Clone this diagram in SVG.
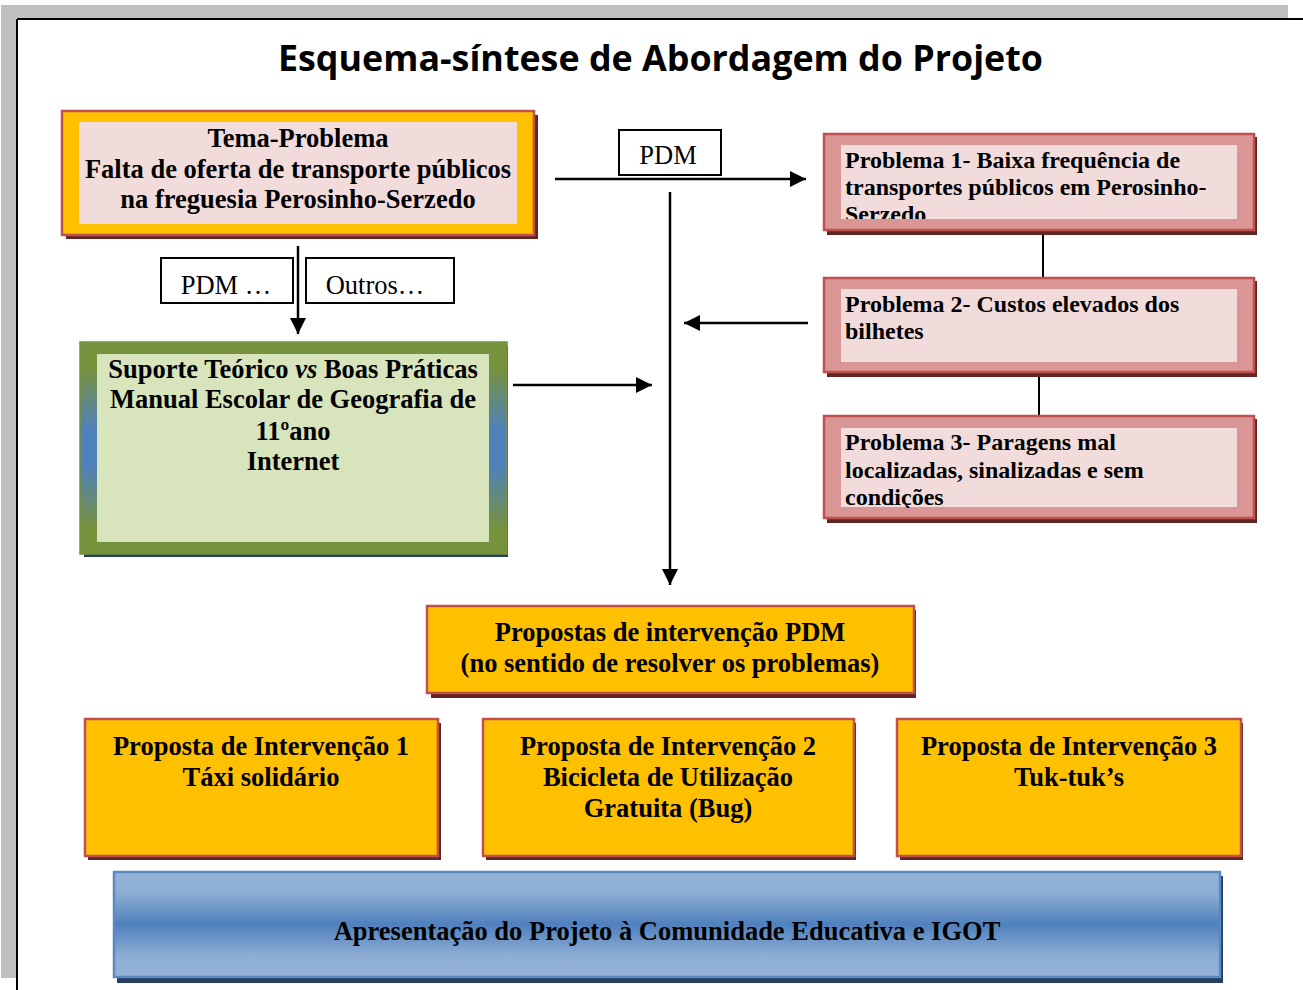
<svg xmlns="http://www.w3.org/2000/svg" width="1303" height="990" viewBox="0 0 1303 990">
<defs>
<style>
.t{font-family:"Liberation Serif","Times New Roman",serif;font-weight:bold;fill:#000}
.c{text-anchor:middle}
.r{font-family:"Liberation Serif","Times New Roman",serif;font-weight:normal;fill:#000}
.b{font-size:26.5px}
.p{font-size:24px}
.orange{fill:#FFC000;stroke:#C0504D;stroke-width:2.5}
.shr{fill:#632523}
.shb{fill:#243F60}
.pinkout{fill:#D99694;stroke:#C0504D;stroke-width:2.5}
.pinkin{fill:#F2DCDB}
.lbl{fill:#fff;stroke:#000;stroke-width:2}
.ln{stroke:#000;stroke-width:2.5;fill:none}
.thin{stroke:#000;stroke-width:2;fill:none}
</style>
<marker id="ah2" viewBox="0 0 10 10" refX="10" refY="5" markerWidth="6.4" markerHeight="6.4" orient="auto">
<path d="M0,0 L10,5 L0,10 z" fill="#000"/>
</marker>
<linearGradient id="gframe" x1="0" y1="0" x2="0" y2="1">
<stop offset="0" stop-color="#76923C"/>
<stop offset="0.12" stop-color="#76923C"/>
<stop offset="0.42" stop-color="#4F81BD"/>
<stop offset="0.58" stop-color="#4F81BD"/>
<stop offset="0.88" stop-color="#76923C"/>
<stop offset="1" stop-color="#76923C"/>
</linearGradient>
<linearGradient id="gblue" x1="0" y1="0" x2="0" y2="1">
<stop offset="0" stop-color="#95B3D7"/>
<stop offset="0.2" stop-color="#8EADD4"/>
<stop offset="0.5" stop-color="#4F81BD"/>
<stop offset="0.8" stop-color="#8EADD4"/>
<stop offset="1" stop-color="#95B3D7"/>
</linearGradient>
<clipPath id="cp1"><rect x="841" y="145" width="396" height="74"/></clipPath>
<clipPath id="cp2"><rect x="841" y="289" width="396" height="73"/></clipPath>
<clipPath id="cp3"><rect x="841" y="428" width="396" height="80"/></clipPath>
</defs>

<g id="page">
<rect x="0" y="0" width="1303" height="990" fill="#fff"/>
<rect x="1" y="5" width="1287" height="13" fill="#BFBFBF"/>
<rect x="1" y="5" width="15" height="973" fill="#BFBFBF"/>
<line x1="17" y1="19" x2="1303" y2="19" stroke="#000" stroke-width="2"/>
<line x1="17" y1="19" x2="17" y2="990" stroke="#000" stroke-width="2"/>
<text x="660.5" y="71" text-anchor="middle" font-family="'Open Sans','Noto Sans',sans-serif" font-weight="bold" font-size="35" textLength="765" lengthAdjust="spacingAndGlyphs">Esquema-síntese de Abordagem do Projeto</text>
</g>

<g id="connectors">
<line class="ln" x1="555" y1="179" x2="806" y2="179" marker-end="url(#ah2)"/>
<line class="ln" x1="670" y1="192" x2="670" y2="585" marker-end="url(#ah2)"/>
<line class="ln" x1="808" y1="323" x2="684" y2="323" marker-end="url(#ah2)"/>
<line class="ln" x1="513" y1="385" x2="652" y2="385" marker-end="url(#ah2)"/>
<line class="ln" x1="298" y1="246" x2="298" y2="334" marker-end="url(#ah2)"/>
<line class="thin" x1="1043" y1="230" x2="1043" y2="278"/>
<line class="thin" x1="1039" y1="372" x2="1039" y2="416"/>
</g>

<g id="lbl-pdm-top">
<rect class="lbl" x="619" y="130" width="102" height="45"/>
<text class="r c b" x="668" y="164">PDM</text>
</g>
<g id="lbl-pdm">
<rect class="lbl" x="161" y="258" width="132" height="45"/>
<text class="r c b" x="226" y="294">PDM …</text>
</g>
<g id="lbl-outros">
<rect class="lbl" x="306" y="258" width="148" height="45"/>
<text class="r c b" x="375" y="294">Outros…</text>
</g>

<g id="tema">
<rect class="shr" x="66" y="115" width="472" height="124"/>
<rect class="orange" x="62" y="111" width="472" height="124"/>
<rect class="pinkin" x="79" y="122" width="438" height="102"/>
<text class="t c b" x="298" y="147">Tema-Problema</text>
<text class="t c b" x="298" y="178">Falta de oferta de transporte públicos</text>
<text class="t c b" x="298" y="208">na freguesia Perosinho-Serzedo</text>
</g>

<g id="problema1">
<rect class="shr" x="827" y="137" width="430" height="98"/>
<rect class="pinkout" x="824" y="134" width="430" height="96"/>
<rect class="pinkin" x="841" y="145" width="396" height="74"/>
<g clip-path="url(#cp1)">
<text class="t p" x="845" y="168">Problema 1- Baixa frequência de</text>
<text class="t p" x="845" y="195">transportes públicos em Perosinho-</text>
<text class="t p" x="845" y="222">Serzedo</text>
</g>
</g>

<g id="problema2">
<rect class="shr" x="827" y="281" width="430" height="96"/>
<rect class="pinkout" x="824" y="278" width="430" height="94"/>
<rect class="pinkin" x="841" y="289" width="396" height="73"/>
<g clip-path="url(#cp2)">
<text class="t p" x="845" y="312">Problema 2- Custos elevados dos</text>
<text class="t p" x="845" y="339">bilhetes</text>
</g>
</g>

<g id="problema3">
<rect class="shr" x="827" y="419" width="430" height="104"/>
<rect class="pinkout" x="824" y="416" width="430" height="102"/>
<rect class="pinkin" x="841" y="428" width="396" height="79"/>
<g clip-path="url(#cp3)">
<text class="t p" x="845" y="450">Problema 3- Paragens mal</text>
<text class="t p" x="845" y="478">localizadas, sinalizadas e sem</text>
<text class="t p" x="845" y="505">condições</text>
</g>
</g>

<g id="suporte">
<rect class="shb" x="84" y="346" width="424" height="211"/>
<rect x="80" y="342" width="427" height="212" fill="url(#gframe)"/>
<rect x="80" y="342" width="427" height="212" fill="none" stroke="#76923C" stroke-width="1.5"/>
<rect x="97" y="354" width="392" height="188" fill="#D7E4BC"/>
<text class="t c b" x="293" y="378">Suporte Teórico <tspan font-style="italic">vs</tspan> Boas Práticas</text>
<text class="t c b" x="293" y="408">Manual Escolar de Geografia de</text>
<text class="t c b" x="293" y="440">11ºano</text>
<text class="t c b" x="293" y="470">Internet</text>
</g>

<g id="propostas">
<rect class="shr" x="431" y="610" width="485" height="88"/>
<rect class="orange" x="427" y="606" width="487" height="87"/>
<text class="t c b" x="670" y="641">Propostas de intervenção PDM</text>
<text class="t c b" x="670" y="672">(no sentido de resolver os problemas)</text>
</g>

<g id="proposta1">
<rect class="shr" x="88" y="723" width="353" height="137"/>
<rect class="orange" x="85" y="719" width="353" height="137"/>
<text class="t c b" x="261" y="755">Proposta de Intervenção 1</text>
<text class="t c b" x="261" y="786">Táxi solidário</text>
</g>

<g id="proposta2">
<rect class="shr" x="486" y="723" width="370" height="137"/>
<rect class="orange" x="483" y="719" width="371" height="137"/>
<text class="t c b" x="668" y="755">Proposta de Intervenção 2</text>
<text class="t c b" x="668" y="786">Bicicleta de Utilização</text>
<text class="t c b" x="668" y="817">Gratuita (Bug)</text>
</g>

<g id="proposta3">
<rect class="shr" x="900" y="723" width="343" height="137"/>
<rect class="orange" x="897" y="719" width="344" height="137"/>
<text class="t c b" x="1069" y="755">Proposta de Intervenção 3</text>
<text class="t c b" x="1069" y="786">Tuk-tuk’s</text>
</g>

<g id="apresentacao">
<rect class="shb" x="117" y="876" width="1106" height="107"/>
<rect x="114" y="872" width="1106" height="105" fill="url(#gblue)" stroke="#5B89C3" stroke-width="2.5"/>
<text class="t c b" x="667" y="940">Apresentação do Projeto à Comunidade Educativa e IGOT</text>
</g>
</svg>
